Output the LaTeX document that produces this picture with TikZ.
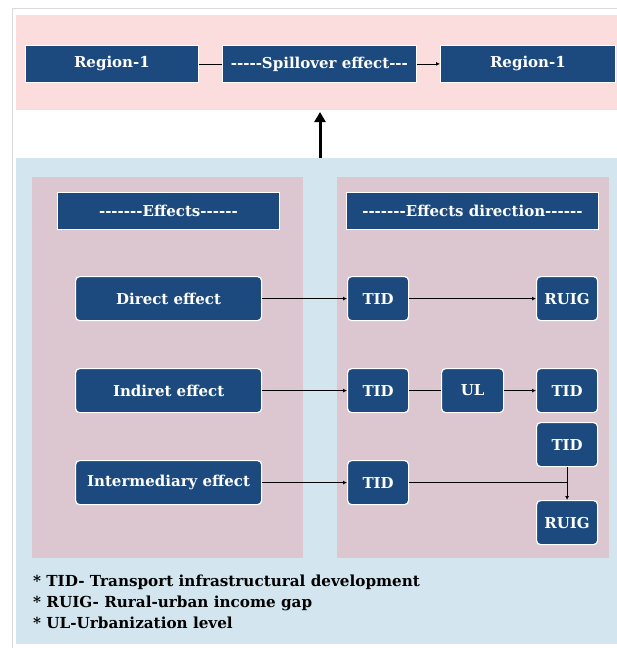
\documentclass[tikz,border=0pt]{standalone}
\usepackage{fontspec}
\setmainfont{DejaVu Serif}[Ligatures=TeXOff]
\usetikzlibrary{arrows.meta}
\definecolor{boxblue}{HTML}{1C4A7E}
\definecolor{bandpink}{HTML}{FCDDDE}
\definecolor{bandblue}{HTML}{D3E6EF}
\definecolor{panel}{HTML}{DCC7D0}
\definecolor{framegray}{HTML}{DADADA}
\tikzset{
  sqbox/.style={fill=boxblue, draw=white, line width=0.8pt, text=white, font=\bfseries\fontsize{15}{18}\selectfont, inner sep=0pt, anchor=north west},
  rbox/.style={fill=boxblue, draw=white, line width=1.2pt, rounded corners=4pt, text=white, font=\bfseries\fontsize{15}{18}\selectfont, inner sep=0pt, anchor=north west},
  conn/.style={line width=0.8pt, draw=black},
  arr/.style={conn, -{Latex[length=4pt,width=4pt]}},
}
\begin{document}
\begin{tikzpicture}[x=1pt,y=-1pt]
\useasboundingbox (0,0) rectangle (617,648);
\fill[white] (0,0) rectangle (617,648);
% outer frame
\draw[framegray, line width=1pt] (617,8) -- (12,8) -- (12,648);
% bands
\fill[bandpink] (16,15) rectangle (617,110);
\fill[bandblue] (16,158) rectangle (617,644);
\fill[panel] (32,177) rectangle (303,558);
\fill[panel] (337,177) rectangle (609,558);
% top row
\node[sqbox, minimum width=173pt, minimum height=37pt] (r1) at (25,45) {Region-1};
\node[sqbox, minimum width=194pt, minimum height=37pt] (sp) at (222,45) {-----Spillover effect---};
\node[sqbox, minimum width=175pt, minimum height=37pt] (r2) at (440,45) {Region-1};
\draw[conn] (r1.east) -- (sp.west);
\draw[arr] (sp.east) -- (r2.west);
% up arrow
\coordinate (upstart) at (320,158);
\draw[line width=3pt, -{Triangle[length=10pt,width=11pt]}] (upstart) -- (upstart |- 0,112);
% headers
\node[sqbox, minimum width=222pt, minimum height=37pt] (h1) at (57,192) {-------Effects------};
\node[sqbox, minimum width=252pt, minimum height=37pt] (h2) at (346,192) {-------Effects direction------};
% effect boxes
\node[rbox, minimum width=186pt, minimum height=44pt] (de) at (75,276) {Direct effect};
\node[rbox, minimum width=186pt, minimum height=44pt] (ie) at (75,368) {Indiret effect};
\node[rbox, minimum width=186pt, minimum height=44pt] (me) at (75,460) {Intermediary effect};
% direction boxes
\node[rbox, minimum width=61pt, minimum height=44pt] (t1) at (347,276) {TID};
\node[rbox, minimum width=61pt, minimum height=44pt] (g1) at (536,276) {RUIG};
\node[rbox, minimum width=61pt, minimum height=44pt] (t2) at (347,368) {TID};
\node[rbox, minimum width=62pt, minimum height=44pt] (ul) at (441,368) {UL};
\node[rbox, minimum width=61pt, minimum height=44pt] (t3) at (536,368) {TID};
\node[rbox, minimum width=61pt, minimum height=44pt] (t4) at (536,422) {TID};
\node[rbox, minimum width=61pt, minimum height=44pt] (t5) at (347,460) {TID};
\node[rbox, minimum width=61pt, minimum height=44pt] (g2) at (536,500) {RUIG};
% connectors
\draw[arr] (de.east) -- (t1.west);
\draw[arr] (t1.east) -- (g1.west);
\draw[arr] (ie.east) -- (t2.west);
\draw[conn] (t2.east) -- (ul.west);
\draw[arr] (ul.east) -- (t3.west);
\draw[arr] (me.east) -- (t5.west);
\draw[conn] (t5.east) -- (t5.east -| t4.south);
\draw[arr] (t4.south) -- (g2.north);
% legend
\node[anchor=north west, align=left, inner sep=0pt, font=\bfseries\fontsize{15.2}{21}\selectfont] (leg) at (33,575) {* TID- Transport infrastructural development\\* RUIG- Rural-urban income gap\\* UL-Urbanization level};
\end{tikzpicture}
\end{document}
